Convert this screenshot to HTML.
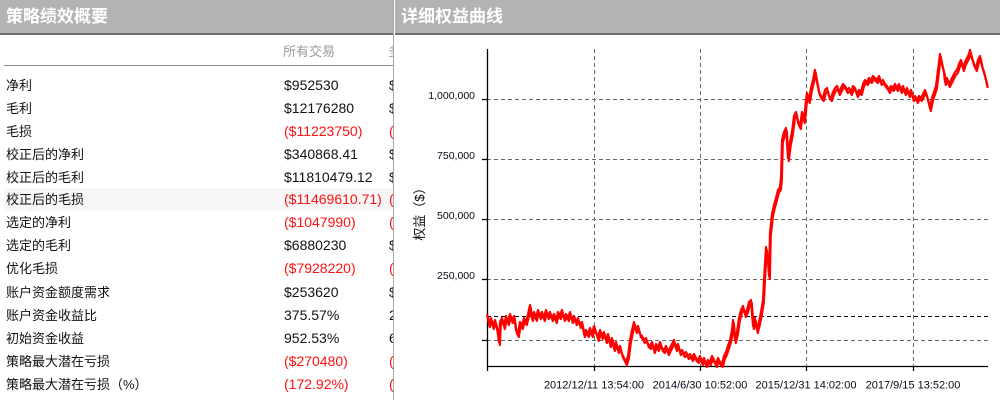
<!DOCTYPE html>
<html><head><meta charset="utf-8">
<style>
html,body{margin:0;padding:0;}
body{width:1000px;height:400px;position:relative;overflow:hidden;background:#fff;font-family:"Liberation Sans","Noto Sans CJK SC",sans-serif;}
#left{position:absolute;left:0;top:0;width:393px;height:400px;overflow:hidden;background:#fff;}
.hdr{position:absolute;top:0;height:33px;background:#b3b3b3;border-bottom:2px solid #707070;color:#fff;font-weight:bold;font-size:17px;line-height:34px;box-sizing:content-box;}
.hdr span{position:absolute;left:6px;top:0;white-space:nowrap;}
.colhdr{position:absolute;top:41px;height:22px;line-height:22px;font-size:13px;color:#9a9a9a;white-space:nowrap;}
#uline{position:absolute;left:4px;top:65px;width:389px;height:1px;background:#8f8e80;}
.row{position:absolute;left:4px;width:389px;height:23px;line-height:23px;font-size:13px;color:#111;white-space:nowrap;}
.row .l{position:absolute;left:2px;top:0;}
.row .v{position:absolute;left:280px;top:0;font-size:14px;}
.row .w{position:absolute;left:385px;top:0;font-size:14px;}
.red{color:#ff1010 !important;}
.hl{background:#f6f6f6;}
#div{position:absolute;left:393px;top:0;width:1px;height:400px;background:#a8a8a8;}
svg{position:absolute;left:0;top:0;}
</style></head>
<body>
<div id="left">
  <div class="hdr" style="left:0;width:393px;"><span>策略绩效概要</span></div>
  <div class="colhdr" style="left:283px;">所有交易</div>
  <div class="colhdr" style="left:388px;">多头交易</div>
  <div id="uline"></div>
  <div class="row" style="top:74px;"><span class="l">净利</span><span class="v">$952530</span><span class="w">$1023</span></div>
  <div class="row" style="top:97px;"><span class="l">毛利</span><span class="v">$12176280</span><span class="w">$6120</span></div>
  <div class="row" style="top:120px;"><span class="l">毛损</span><span class="v red">($11223750)</span><span class="w red">($51</span></div>
  <div class="row" style="top:143px;"><span class="l">校正后的净利</span><span class="v">$340868.41</span><span class="w">$512</span></div>
  <div class="row" style="top:166px;"><span class="l">校正后的毛利</span><span class="v">$11810479.12</span><span class="w">$58</span></div>
  <div class="row hl" style="top:188px;height:23px;"><span class="l">校正后的毛损</span><span class="v red">($11469610.71)</span><span class="w red">($5</span></div>
  <div class="row" style="top:211px;"><span class="l">选定的净利</span><span class="v red">($1047990)</span><span class="w red">($4</span></div>
  <div class="row" style="top:234px;"><span class="l">选定的毛利</span><span class="v">$6880230</span><span class="w">$31</span></div>
  <div class="row" style="top:257px;"><span class="l">优化毛损</span><span class="v red">($7928220)</span><span class="w red">($3</span></div>
  <div class="row" style="top:281px;"><span class="l">账户资金额度需求</span><span class="v">$253620</span><span class="w">$21</span></div>
  <div class="row" style="top:304px;"><span class="l">账户资金收益比</span><span class="v">375.57%</span><span class="w">245</span></div>
  <div class="row" style="top:327px;"><span class="l">初始资金收益</span><span class="v">952.53%</span><span class="w">612</span></div>
  <div class="row" style="top:350px;"><span class="l">策略最大潜在亏损</span><span class="v red">($270480)</span><span class="w red">($2</span></div>
  <div class="row" style="top:373px;"><span class="l">策略最大潜在亏损（%）</span><span class="v red">(172.92%)</span><span class="w red">(12</span></div>
</div>
<div id="div"></div>
<div class="hdr" style="left:395px;width:605px;"><span>详细权益曲线</span></div>

<svg width="1000" height="400" viewBox="0 0 1000 400" xmlns="http://www.w3.org/2000/svg">
  <g stroke="#6a6a6a" stroke-width="1" stroke-dasharray="4 3" fill="none">
    <line x1="487" y1="99.5" x2="988" y2="99.5"/>
    <line x1="487" y1="159.5" x2="988" y2="159.5"/>
    <line x1="487" y1="219.5" x2="988" y2="219.5"/>
    <line x1="487" y1="279.5" x2="988" y2="279.5"/>
    <line x1="487" y1="340.5" x2="988" y2="340.5"/>
    <line x1="594.5" y1="49" x2="594.5" y2="366"/>
    <line x1="700.5" y1="49" x2="700.5" y2="366"/>
    <line x1="806.5" y1="49" x2="806.5" y2="366"/>
    <line x1="913.5" y1="49" x2="913.5" y2="366"/>
  </g>
  <line x1="487" y1="316.5" x2="988" y2="316.5" stroke="#000" stroke-width="1" stroke-dasharray="4 3"/>
  <g stroke="#000" stroke-width="1.3">
    <line x1="487.5" y1="49" x2="487.5" y2="367"/>
    <line x1="487" y1="366.5" x2="988" y2="366.5"/>
    <line x1="482" y1="99.5" x2="487" y2="99.5"/>
    <line x1="482" y1="159.5" x2="487" y2="159.5"/>
    <line x1="482" y1="219.5" x2="487" y2="219.5"/>
    <line x1="482" y1="279.5" x2="487" y2="279.5"/>
    <line x1="482" y1="340.5" x2="487" y2="340.5"/>
    <line x1="487.5" y1="366" x2="487.5" y2="371"/>
    <line x1="594.5" y1="366" x2="594.5" y2="371"/>
    <line x1="700.5" y1="366" x2="700.5" y2="371"/>
    <line x1="806.5" y1="366" x2="806.5" y2="371"/>
    <line x1="913.5" y1="366" x2="913.5" y2="371"/>
  </g>
  <polyline id="curve" fill="none" stroke="#ff0000" stroke-width="2.2" stroke-linejoin="round" points="487,314 489,324 491,318 493,326 495,320 497,328 499,342 500,322 502,318 504,326 506,316 508,322 510,314 512,320 514,316 516,330 518,334 520,322 522,326 524,318 526,322 528,314 530,305 532,318 534,312 536,318 538,310 540,316 542,312 544,318 546,310 548,316 550,312 552,318 554,314 556,320 558,312 560,316 562,310 564,318 566,314 568,318 570,312 572,320 574,316 576,322 578,318 580,325 582,322 584,334 586,330 588,334 590,328 592,334 594,326 596,332 598,338 600,330 602,336 604,332 606,340 608,334 610,344 612,338 614,348 616,342 618,350 620,346 622,354 624,358 626,362 628,356 630,340 632,330 634,322 636,330 638,326 640,334 642,336 644,340 646,338 648,344 650,346 652,342 654,350 656,344 658,348 660,342 662,348 664,350 666,346 668,352 670,348 672,344 674,340 676,348 678,344 680,352 682,350 684,354 686,352 688,356 690,354 692,358 694,354 696,358 698,360 700,356 702,362 704,358 706,364 708,360 710,362 712,356 714,360 716,364 718,358 720,362 722,364 724,356 726,352 728,346 730,340 732,330 733,320 735,340 737,332 739,318 741,310 743,306 745,314 747,310 749,302 751,300 753,326 755,318 757,330 759,322 761,312 763,300 764,280 766,247 768,262 769,276 770,233 772,214 774,205 776,198 778,190 780,187 781,178 782,140 784,132 786,128 788,158 790,142 792,132 794,116 796,112 798,122 800,126 802,112 804,120 806,100 807,93 809,100 811,88 813,80 815,70 817,82 819,92 821,96 823,98 825,90 827,88 829,96 831,98 833,92 835,88 837,86 839,92 841,88 843,84 845,86 847,90 849,88 851,92 853,86 855,88 857,94 859,90 861,92 863,84 865,80 867,82 869,78 871,80 873,76 875,78 877,80 879,76 881,82 883,80 885,84 887,86 889,90 891,86 893,88 895,84 897,88 899,84 901,90 903,86 905,92 907,88 909,94 911,90 913,98 915,96 917,100 919,96 921,98 923,94 925,90 927,96 929,104 930,108 932,98 934,92 936,86 937,78 938,70 940,54 942,64 944,72 945,82 947,78 949,84 951,80 953,76 955,72 957,70 959,64 961,60 963,68 965,62 967,58 969,54 970,50 972,58 974,64 976,68 978,60 980,56 982,66 984,72 986,80 987,85"/>
  <use href="#curve" transform="translate(0.8,3)"/>
  <g font-family="Liberation Sans, sans-serif" font-size="10.5" fill="#0a0a1a" text-anchor="end">
    <text x="475" y="99">1,000,000</text>
    <text x="475" y="159">750,000</text>
    <text x="475" y="219">500,000</text>
    <text x="475" y="279">250,000</text>
  </g>
  <g font-family="Liberation Sans, sans-serif" font-size="11" fill="#0a0a1a" text-anchor="middle">
    <text x="594" y="388.5">2012/12/11 13:54:00</text>
    <text x="700" y="388.5">2014/6/30 10:52:00</text>
    <text x="806" y="388.5">2015/12/31 14:02:00</text>
    <text x="913" y="388.5">2017/9/15 13:52:00</text>
  </g>
  <text x="0" y="0" transform="translate(424,211) rotate(-90)" text-anchor="middle" font-family="Liberation Sans, Noto Sans CJK SC, sans-serif" font-size="13" fill="#111">权益（$）</text>
</svg>
</body></html>
